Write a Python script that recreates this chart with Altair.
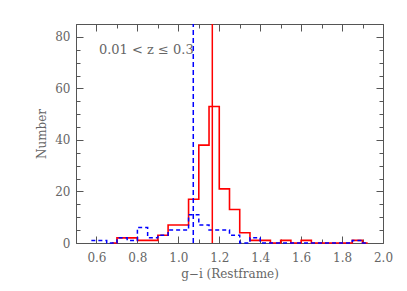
import altair as alt
import pandas as pd

# Histogram bins (lower edges, width 0.05) and counts
bin_width = 0.05
red_start = 0.65
red_counts = [0, 2, 2, 1, 1, 3, 7, 7, 17, 38, 53, 21, 13, 4, 1, 1, 0, 1, 0, 1, 0, 0, 0, 0, 1, 0]
blue_start = 0.55
blue_counts = [1, 1, 0, 2, 1, 6, 2, 3, 5, 5, 11, 7, 5, 5, 3, 0, 2, 0, 0, 0, 0, 0, 0, 0, 0, 0, 1, 0]

red_line_x = 1.166
blue_line_x = 1.073

x_major = [0.6, 0.8, 1.0, 1.2, 1.4, 1.6, 1.8, 2.0]
x_minor = [0.5, 0.7, 0.9, 1.1, 1.3, 1.5, 1.7, 1.9]
y_major = [0, 20, 40, 60, 80]
y_minor = [5, 10, 15, 25, 30, 35, 45, 50, 55, 65, 70, 75, 85]

label_text = "0.01  <  z  ≤  0.3"
label_x = 0.612
label_y = 75

W, H = 307, 219
GRAY = "#555555"
TXT = "#666666"
FONT = "DejaVu Serif"


def steps(start, counts):
    xs, ys = [], []
    n = len(counts)
    for i, c in enumerate(counts):
        lo = round(start + i * bin_width, 4)
        xs.append(lo + bin_width / 2 if i == 0 else lo)
        ys.append(c)
    xs.append(round(start + (n - 1) * bin_width + bin_width / 2, 4))
    ys.append(counts[-1])
    return pd.DataFrame({"x": xs, "y": ys, "o": range(len(xs))})


red_df = steps(red_start, red_counts)
blue_df = steps(blue_start, blue_counts)

xs = alt.Scale(domain=[0.5, 2.0], nice=False, zero=False)
ys = alt.Scale(domain=[0, 85], nice=False)


def tick_axis(orient, values, size, domain=False):
    return alt.Axis(orient=orient, offset=-(H if orient in ("top", "bottom") else W),
                    values=values, tickSize=size, tickColor=GRAY, tickWidth=1,
                    labels=False, domain=domain, domainColor=GRAY, grid=False, title=None)


red = alt.Chart(red_df).mark_line(interpolate="step-after", color="#ff0000", strokeWidth=1.6).encode(
    x=alt.X("x:Q", scale=xs, axis=alt.Axis(orient="bottom", values=x_major, format=".1f", tickSize=0,
                                          labelPadding=9, labelFlush=False, domainColor=GRAY,
                                          labelColor=TXT, labelFont=FONT, labelFontSize=12,
                                          grid=False, title="g−i (Restframe)", titleFont=FONT,
                                          titleFontSize=12, titleFontWeight="normal", titleColor=TXT,
                                          titleY=30, titleBaseline="middle")),
    y=alt.Y("y:Q", scale=ys, axis=alt.Axis(orient="left", values=y_major, tickSize=0, labelPadding=6,
                                          labelFlush=False, domainColor=GRAY, labelColor=TXT,
                                          labelFont=FONT, labelFontSize=12, grid=False, title="Number",
                                          titleFont=FONT, titleFontSize=12, titleFontWeight="normal",
                                          titleColor=TXT, titleX=-35, titleBaseline="middle")),
    order="o:Q",
)

blue = alt.Chart(blue_df).mark_line(interpolate="step-after", color="#0000ff", strokeWidth=1.5,
                                    strokeDash=[4, 3]).encode(
    x=alt.X("x:Q", scale=xs, axis=tick_axis("top", x_major, 7)),
    y=alt.Y("y:Q", scale=ys, axis=tick_axis("right", y_major, 7)),
    order="o:Q",
)

vdf = pd.DataFrame({"x": [blue_line_x, red_line_x], "c": ["blue", "red"], "y": [0, 0], "y2": [85, 85]})

vblue = alt.Chart(vdf[vdf.c == "blue"]).mark_rule(color="#0000ff", strokeWidth=1.5, strokeDash=[5, 3]).encode(
    x=alt.X("x:Q", scale=xs, axis=tick_axis("top", x_minor, 4)),
    y=alt.Y("y:Q", scale=ys, axis=tick_axis("right", y_minor, 4)),
    y2="y2:Q",
)

vred = alt.Chart(vdf[vdf.c == "red"]).mark_rule(color="#ff0000", strokeWidth=1.5).encode(
    x=alt.X("x:Q", scale=xs, axis=tick_axis("bottom", x_major, 7, domain=True)),
    y=alt.Y("y:Q", scale=ys, axis=tick_axis("left", y_major, 7, domain=True)),
    y2="y2:Q",
)

tdf = pd.DataFrame({"x": [label_x], "y": [label_y], "t": [label_text]})
txt = alt.Chart(tdf).mark_text(align="left", baseline="middle", font=FONT, fontSize=13,
                               color=TXT).encode(
    x=alt.X("x:Q", scale=xs, axis=tick_axis("bottom", x_minor, 4)),
    y=alt.Y("y:Q", scale=ys, axis=tick_axis("left", y_minor, 4)),
    text="t:N",
)

chart = alt.layer(red, blue, vblue, vred, txt).resolve_axis(x="independent", y="independent").properties(
    width=W, height=H, autosize=alt.AutoSizeParams(type="none"),
    padding={"left": 68, "top": 16, "right": 16, "bottom": 40},
).configure_view(stroke=None).configure(background="white")

chart.save("out.html", embed_options={"renderer": "svg", "actions": False})
